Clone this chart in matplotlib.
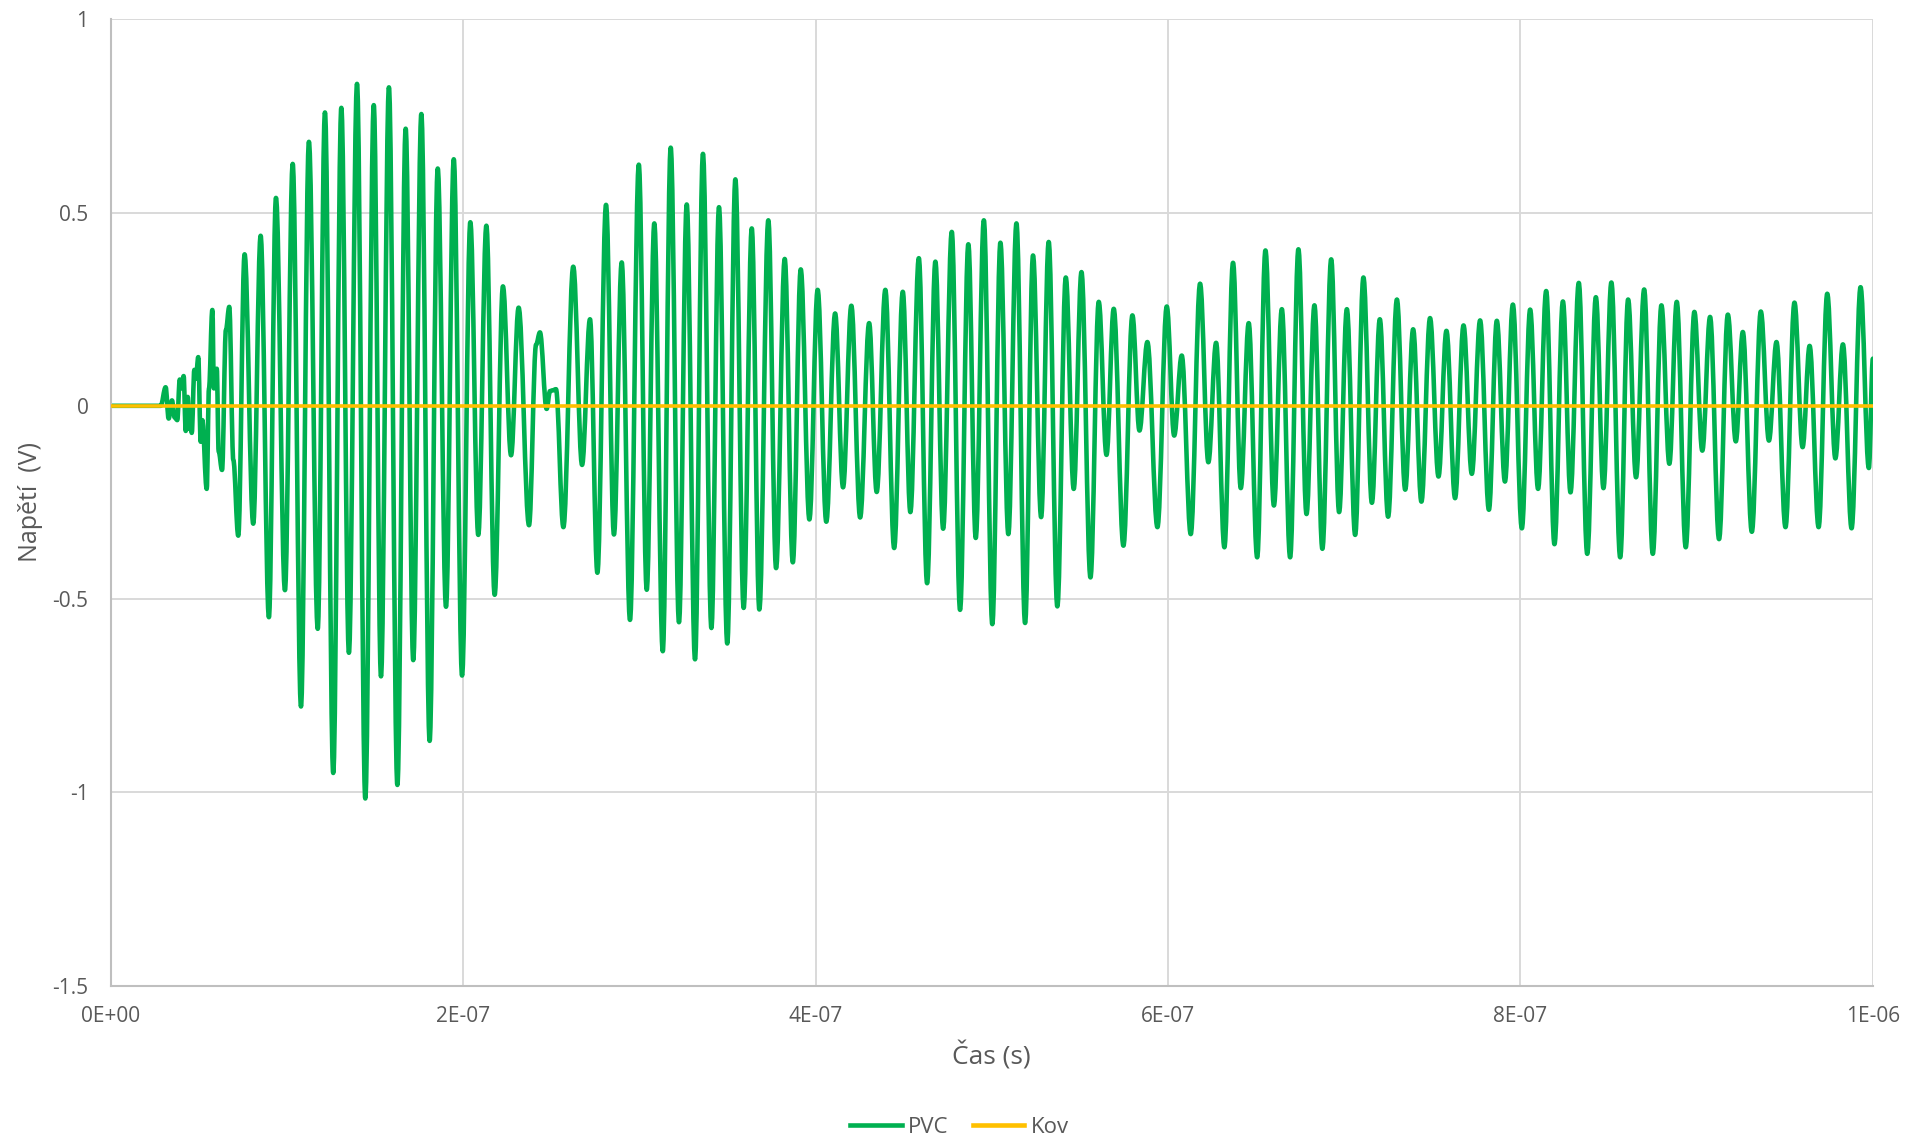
import numpy as np
import matplotlib.pyplot as plt
from matplotlib.path import Path
from matplotlib.patches import PathPatch
from matplotlib.lines import Line2D

plt.rcParams['font.family'] = ['Open Sans', 'DejaVu Sans']

# time of each turning point of the PVC trace (ns) and its voltage (V)
pvc_t_ns = [
    0, 28.4, 31.2, 32.9, 34.8, 36.3, 37.8, 39.2, 40.3, 41.4, 42.6, 43.7, 44.8, 45.4, 46.0,
    47.5, 48.4, 49.7, 51.1, 52.0, 54.5, 55.8, 57.7, 58.6, 60.2, 61.3, 63.2, 65.4, 67.3,
    69.6, 72.4, 76.0, 80.9, 85.1, 89.8, 93.8, 98.9, 103.3, 108.0, 112.5, 117.5, 121.6,
    126.3, 130.9, 135.2, 139.8, 144.5, 149.3, 153.4, 157.9, 162.7, 167.4, 171.7, 176.3,
    181.0, 185.6, 190.3, 194.7, 199.4, 204.1, 208.6, 213.2, 217.9, 222.6, 227.2, 231.5,
    237.4, 241.4, 243.6, 247.4, 249.3, 250.8, 252.7, 256.9, 262.5, 267.5, 272.0, 276.2,
    281.1, 285.6, 290.0, 294.7, 299.7, 304.2, 308.5, 313.3, 317.8, 322.5, 326.9, 331.6,
    336.1, 340.9, 345.2, 349.9, 354.5, 359.2, 363.8, 368.1, 373.2, 377.6, 382.5, 387.1,
    391.6, 396.5, 401.2, 406.1, 411.1, 415.6, 420.3, 425.3, 430.4, 434.7, 439.6, 444.6,
    449.5, 453.8, 458.6, 463.3, 468.0, 472.4, 477.3, 482.0, 486.7, 490.9, 495.5, 500.3,
    504.9, 509.4, 514.0, 518.9, 523.4, 528.0, 532.3, 537.2, 542.0, 546.5, 550.9, 556.0,
    560.7, 565.1, 569.2, 574.7, 579.8, 583.8, 588.3, 594.0, 599.3, 603.5, 607.8, 612.9,
    618.2, 622.9, 627.3, 632.0, 636.9, 641.3, 645.8, 650.6, 655.3, 660.1, 664.6, 669.3,
    674.0, 678.6, 683.1, 687.6, 692.6, 697.1, 701.5, 706.2, 710.9, 715.7, 720.2, 724.9,
    729.9, 734.6, 739.1, 743.8, 748.7, 753.5, 758.0, 762.9, 767.7, 772.4, 777.1, 782.1,
    786.6, 791.2, 795.7, 800.8, 805.5, 810.0, 814.6, 819.3, 824.1, 828.4, 833.1, 837.9,
    842.8, 847.1, 851.6, 856.6, 861.1, 865.6, 870.2, 875.1, 880.0, 884.5, 888.7, 893.8,
    898.7, 903.2, 907.6, 912.7, 917.7, 922.2, 926.2, 931.3, 936.4, 941.0, 945.3, 950.4,
    955.5, 960.1, 964.1, 969.2, 974.1, 978.7, 983.0, 987.9, 993.0, 997.7, 1000.0,
]
pvc_v = [
    0, 0.0, 0.048, -0.033, 0.014, -0.030, -0.037, 0.068, 0.045, 0.077, -0.065, 0.023, -0.060, -0.030, -0.070,
    0.093, 0.070, 0.126, -0.093, -0.037, -0.215, 0.045, 0.248, 0.045, 0.096, -0.118, -0.166, 0.196, 0.256,
    -0.140, -0.336, 0.392, -0.305, 0.440, -0.547, 0.538, -0.477, 0.626, -0.778, 0.683, -0.577, 0.759,
    -0.950, 0.771, -0.639, 0.833, -1.016, 0.778, -0.700, 0.824, -0.981, 0.717, -0.658, 0.755,
    -0.867, 0.614, -0.520, 0.638, -0.698, 0.475, -0.334, 0.466, -0.489, 0.309, -0.128, 0.254,
    -0.309, 0.158, 0.190, -0.008, 0.038, 0.040, 0.043, -0.314, 0.360, -0.153, 0.224, -0.432,
    0.520, -0.333, 0.371, -0.554, 0.624, -0.476, 0.472, -0.635, 0.668, -0.560, 0.521, -0.656,
    0.652, -0.575, 0.514, -0.615, 0.586, -0.523, 0.459, -0.527, 0.480, -0.420, 0.380, -0.405,
    0.353, -0.294, 0.300, -0.300, 0.239, -0.211, 0.259, -0.289, 0.214, -0.223, 0.300, -0.368,
    0.295, -0.275, 0.382, -0.459, 0.373, -0.318, 0.450, -0.528, 0.418, -0.342, 0.480, -0.565,
    0.422, -0.332, 0.472, -0.562, 0.389, -0.288, 0.424, -0.519, 0.332, -0.215, 0.346, -0.444,
    0.269, -0.127, 0.251, -0.362, 0.234, -0.064, 0.165, -0.314, 0.257, -0.077, 0.130, -0.332,
    0.316, -0.146, 0.163, -0.366, 0.370, -0.213, 0.214, -0.392, 0.402, -0.258, 0.250, -0.392,
    0.405, -0.280, 0.260, -0.370, 0.379, -0.275, 0.250, -0.334, 0.332, -0.251, 0.224, -0.287,
    0.275, -0.217, 0.198, -0.248, 0.227, -0.183, 0.194, -0.239, 0.208, -0.176, 0.221, -0.269,
    0.220, -0.196, 0.262, -0.317, 0.249, -0.215, 0.297, -0.358, 0.270, -0.224, 0.318, -0.383,
    0.281, -0.213, 0.319, -0.392, 0.275, -0.185, 0.301, -0.383, 0.260, -0.150, 0.269, -0.366,
    0.243, -0.116, 0.230, -0.345, 0.236, -0.092, 0.191, -0.326, 0.244, -0.090, 0.165, -0.314,
    0.267, -0.107, 0.155, -0.314, 0.290, -0.136, 0.159, -0.317, 0.307, -0.161, 0.122,
]
kov_t_ns = [0, 1000]
kov_v = [0, 0]

x_ticks = [0, 2e-7, 4e-7, 6e-7, 8e-7, 1e-6]
x_labels = ['0E+00', '2E-07', '4E-07', '6E-07', '8E-07', '1E-06']
y_ticks = [-1.5, -1, -0.5, 0, 0.5, 1]
y_labels = ['-1.5', '-1', '-0.5', '0', '0.5', '1']

green = '#00B050'
yellow = '#FFC000'
txt = '#595959'

fig = plt.figure(figsize=(19.08, 11.38), dpi=100)
ax = fig.add_axes([0.058, 0.134, 0.9236, 0.849])

# smooth trace through the turning points (flat tangent at each one)
t = np.array(pvc_t_ns) * 1e-9
v = np.array(pvc_v)
k = 0.363
verts = [(t[0], v[0])]
codes = [Path.MOVETO]
for i in range(1, len(t)):
    dt = t[i] - t[i - 1]
    verts += [(t[i - 1] + k * dt, v[i - 1]), (t[i] - k * dt, v[i]), (t[i], v[i])]
    codes += [Path.CURVE4] * 3
ax.add_patch(PathPatch(Path(verts, codes), facecolor='none', edgecolor=green,
                       lw=3.3, joinstyle='round', capstyle='round', zorder=2))

ax.plot(np.array(kov_t_ns) * 1e-9, kov_v, color=yellow, lw=2.6, zorder=3)

ax.set_xlim(0, 1e-6)
ax.set_ylim(-1.5, 1)
ax.set_xticks(x_ticks)
ax.set_xticklabels(x_labels)
ax.set_yticks(y_ticks)
ax.set_yticklabels(y_labels)
ax.tick_params(length=0, labelsize=15, labelcolor=txt)
ax.tick_params(axis='x', pad=15)
ax.tick_params(axis='y', pad=16)
ax.grid(True, color='#D9D9D9', lw=1.4)
ax.set_axisbelow(True)
for s in ['top', 'right']:
    ax.spines[s].set_visible(False)
for s in ['left', 'bottom']:
    ax.spines[s].set_color('#BFBFBF')
    ax.spines[s].set_linewidth(1.5)

ax.set_xlabel('Čas (s)', fontsize=19, color=txt, labelpad=10)
ax.set_ylabel('Napětí  (V)', fontsize=18, color=txt, labelpad=7)

handles = [Line2D([], [], color=green, lw=3.3), Line2D([], [], color=yellow, lw=3.3)]
fig.legend(handles, ['PVC', 'Kov'], loc='center', bbox_to_anchor=(0.503, 0.009),
           ncol=2, frameon=False, fontsize=16, labelcolor=txt, handlelength=2.3,
           handletextpad=0.3, columnspacing=1.1)

fig.savefig('out.png', dpi=100)
